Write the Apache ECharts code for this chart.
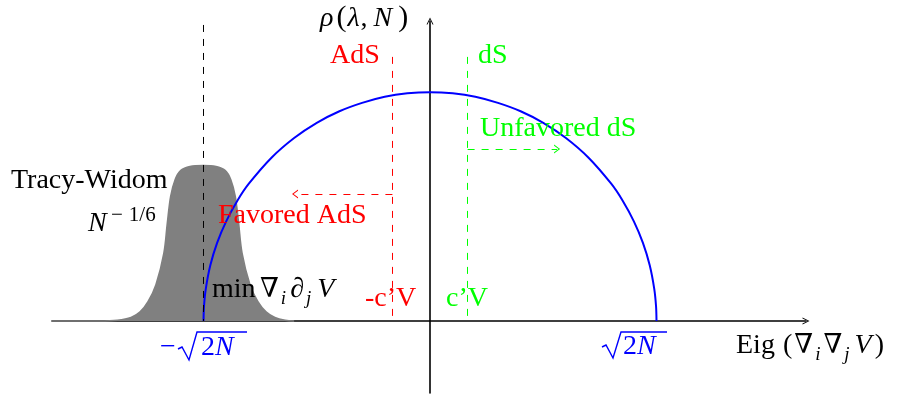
<!DOCTYPE html>
<html>
<head>
<meta charset="utf-8">
<script src="https://cdn.jsdelivr.net/npm/echarts@6/dist/echarts.min.js"></script>
<style>
html, body { margin: 0; padding: 0; background: #fff; }
#main { width: 898px; height: 397px; }
</style>
</head>
<body>
<div id="main"></div>
<script>
// x in units of sqrt(2N), semicircle
var semiX = [-1, -0.998, -0.99, -0.97, -0.94, -0.9, -0.85, -0.8, -0.7, -0.6, -0.5, -0.4, -0.3, -0.2, -0.1, 0,
             0.1, 0.2, 0.3, 0.4, 0.5, 0.6, 0.7, 0.8, 0.85, 0.9, 0.94, 0.97, 0.99, 0.998, 1];
var semiY = [0, 0.064, 0.142, 0.246, 0.345, 0.44, 0.532, 0.606, 0.721, 0.808, 0.875, 0.926, 0.963, 0.99, 1.005, 1.01,
             1.005, 0.99, 0.963, 0.926, 0.875, 0.808, 0.721, 0.606, 0.532, 0.44, 0.345, 0.246, 0.142, 0.064, 0];

// Tracy-Widom bump around the lower edge
var twX = [-1.669, -1.46, -1.38, -1.32, -1.28, -1.245, -1.21, -1.175, -1.16, -1.145, -1.125, -1.1, -1.06, -1.002,
           -0.945, -0.905, -0.88, -0.86, -0.845, -0.83, -0.795, -0.76, -0.724, -0.685, -0.64, -0.6];
var twY = [0, 0, 0.003, 0.015, 0.04, 0.085, 0.16, 0.3, 0.43, 0.55, 0.625, 0.665, 0.682, 0.686,
           0.682, 0.665, 0.625, 0.55, 0.43, 0.3, 0.16, 0.085, 0.04, 0.015, 0.003, 0];

var edge = 1;          // sqrt(2N)
var cV = 0.166;        // c'V threshold
var guideTop = 1.166;
var edgeTop = 1.307;
var adsArrow = [0.561, -0.596];   // height, end x
var dsArrow = [0.759, 0.561];

var chevron = 'path://M0,10 L5,0 L10,10 L8.6,10 L5,2.6 L1.4,10 Z';

var ctx = document.createElement('canvas').getContext('2d');
var FAM = '"Liberation Serif", "DejaVu Serif", serif';
function fontOf(p) { return (p.it ? 'italic ' : '') + (p.size || 28) + 'px ' + FAM; }
// lay out pieces of text, y = baseline; p.x pins a piece, p.dx nudges it
function mathText(x, base, parts, color) {
  var out = [];
  parts.forEach(function (p) {
    var size = p.size || 28;
    var f = fontOf(p);
    ctx.font = f;
    if (p.x != null) x = p.x;
    x += p.dx || 0;
    out.push({
      type: 'text', x: x, y: base + (p.dy || 0) - 0.3375 * size, z: 100,
      style: { text: p.t, font: f, fill: color, verticalAlign: 'middle' }
    });
    x += ctx.measureText(p.t).width;
  });
  return out;
}
function radical(x0, xEnd, top, base, color) {
  return {
    type: 'polyline', z: 100,
    shape: { points: [[x0, base - 9], [x0 + 4, base - 11], [x0 + 11, base + 2], [x0 + 19, top], [xEnd, top]] },
    style: { stroke: color, lineWidth: 1.4, fill: null }
  };
}

var texts = [].concat(
  mathText(320, 28, [{ t: 'ρ', it: 1 }, { t: '(', dx: 3, size: 30 }, { t: 'λ', it: 1, dx: 1 }, { t: ',', dx: 1 },
                     { t: 'N', it: 1, dx: 6 }, { t: ')', dx: 6, size: 30 }], '#000'),
  mathText(330, 65, [{ t: 'AdS' }], '#ff0000'),
  mathText(478, 65, [{ t: 'dS' }], '#00ff00'),
  mathText(480, 138, [{ t: 'Unfavored dS' }], '#00ff00'),
  mathText(218, 225, [{ t: 'Favored AdS' }], '#ff0000'),
  mathText(11, 190, [{ t: 'Tracy-Widom' }], '#000'),
  mathText(88, 233, [{ t: 'N', it: 1 }, { t: '−', size: 21, dy: -10, x: 111 }, { t: '1/6', size: 21, dy: -10, dx: 6 }], '#000'),
  mathText(212, 299, [{ t: 'min' }, { t: '∇', x: 260, size: 27 }, { t: 'i', it: 1, size: 19, dy: 6, dx: 2 },
                      { t: '∂', it: 1, dx: 4 }, { t: 'j', it: 1, size: 19, dy: 6, dx: 2 }, { t: 'V', it: 1, dx: 6 }], '#000'),
  mathText(365, 308, [{ t: '-c’V' }], '#ff0000'),
  mathText(446, 308, [{ t: 'c’V' }], '#00ff00'),
  mathText(160, 357, [{ t: '−' }], '#0000ff'),
  mathText(201, 357, [{ t: '2' }, { t: 'N', it: 1 }], '#0000ff'),
  mathText(623, 356, [{ t: '2' }, { t: 'N', it: 1 }], '#0000ff'),
  mathText(736, 355, [{ t: 'Eig' }, { t: '(', x: 783 }, { t: '∇', dx: 2, size: 27 }, { t: 'i', it: 1, size: 19, dy: 6, dx: 2 },
                      { t: '∇', dx: 3, size: 27 }, { t: 'j', it: 1, size: 19, dy: 6, dx: 2 }, { t: 'V', it: 1, dx: 5 },
                      { t: ')', dx: 3 }], '#000'),
  [radical(178, 247, 332, 358, '#0000ff'), radical(602, 667, 332, 356, '#0000ff')]
);

function pairs(xs, ys) { return xs.map(function (x, i) { return [x, ys[i]]; }); }
function guide(x1, y1, x2, y2, color, arrow) {
  return [
    { coord: [x1, y1], symbol: 'none', lineStyle: { color: color, width: 1, type: [7, 7] } },
    { coord: [x2, y2], symbol: arrow ? chevron : 'none', symbolSize: [9, 6] }
  ];
}

var myChart = echarts.init(document.getElementById('main'));
var option = {
  animation: false,
  grid: { left: 52, right: 92, top: 21, bottom: 4 },
  xAxis: {
    type: 'value', min: -1.669, max: 1.66,
    axisLine: { onZero: true, lineStyle: { color: '#000', width: 1.6 }, symbol: ['none', chevron], symbolSize: [10, 7] },
    axisTick: { show: false }, axisLabel: { show: false }, splitLine: { show: false }
  },
  yAxis: {
    type: 'value', min: -0.318, max: 1.3245,
    axisLine: { onZero: true, lineStyle: { color: '#000', width: 1.6 }, symbol: ['none', chevron], symbolSize: [10, 7] },
    axisTick: { show: false }, axisLabel: { show: false }, splitLine: { show: false }
  },
  series: [
    {
      name: 'Tracy-Widom', type: 'line', data: pairs(twX, twY), smooth: 0.35,
      showSymbol: false, silent: true, z: 2,
      lineStyle: { color: '#808080', width: 1.6 },
      areaStyle: { color: '#808080', opacity: 1 }
    },
    {
      name: 'guides', type: 'line', data: [], z: 3, silent: true,
      markLine: {
        silent: true, animation: false, label: { show: false }, emphasis: { disabled: true },
        data: [
          guide(-edge, edgeTop, -edge, 0, '#000', false),
          guide(-cV, guideTop, -cV, 0, '#ff0000', false),
          guide(cV, guideTop, cV, 0, '#00ff00', false),
          guide(-cV, adsArrow[0], adsArrow[1], adsArrow[0], '#ff0000', true),
          guide(cV, dsArrow[0], dsArrow[1], dsArrow[0], '#00ff00', true)
        ]
      }
    },
    {
      name: 'semicircle', type: 'line', data: pairs(semiX, semiY), smooth: 0.3,
      showSymbol: false, silent: true, z: 4,
      lineStyle: { color: '#0000ff', width: 2 }
    }
  ],
  graphic: texts
};
myChart.setOption(option);
</script>
</body>
</html>
